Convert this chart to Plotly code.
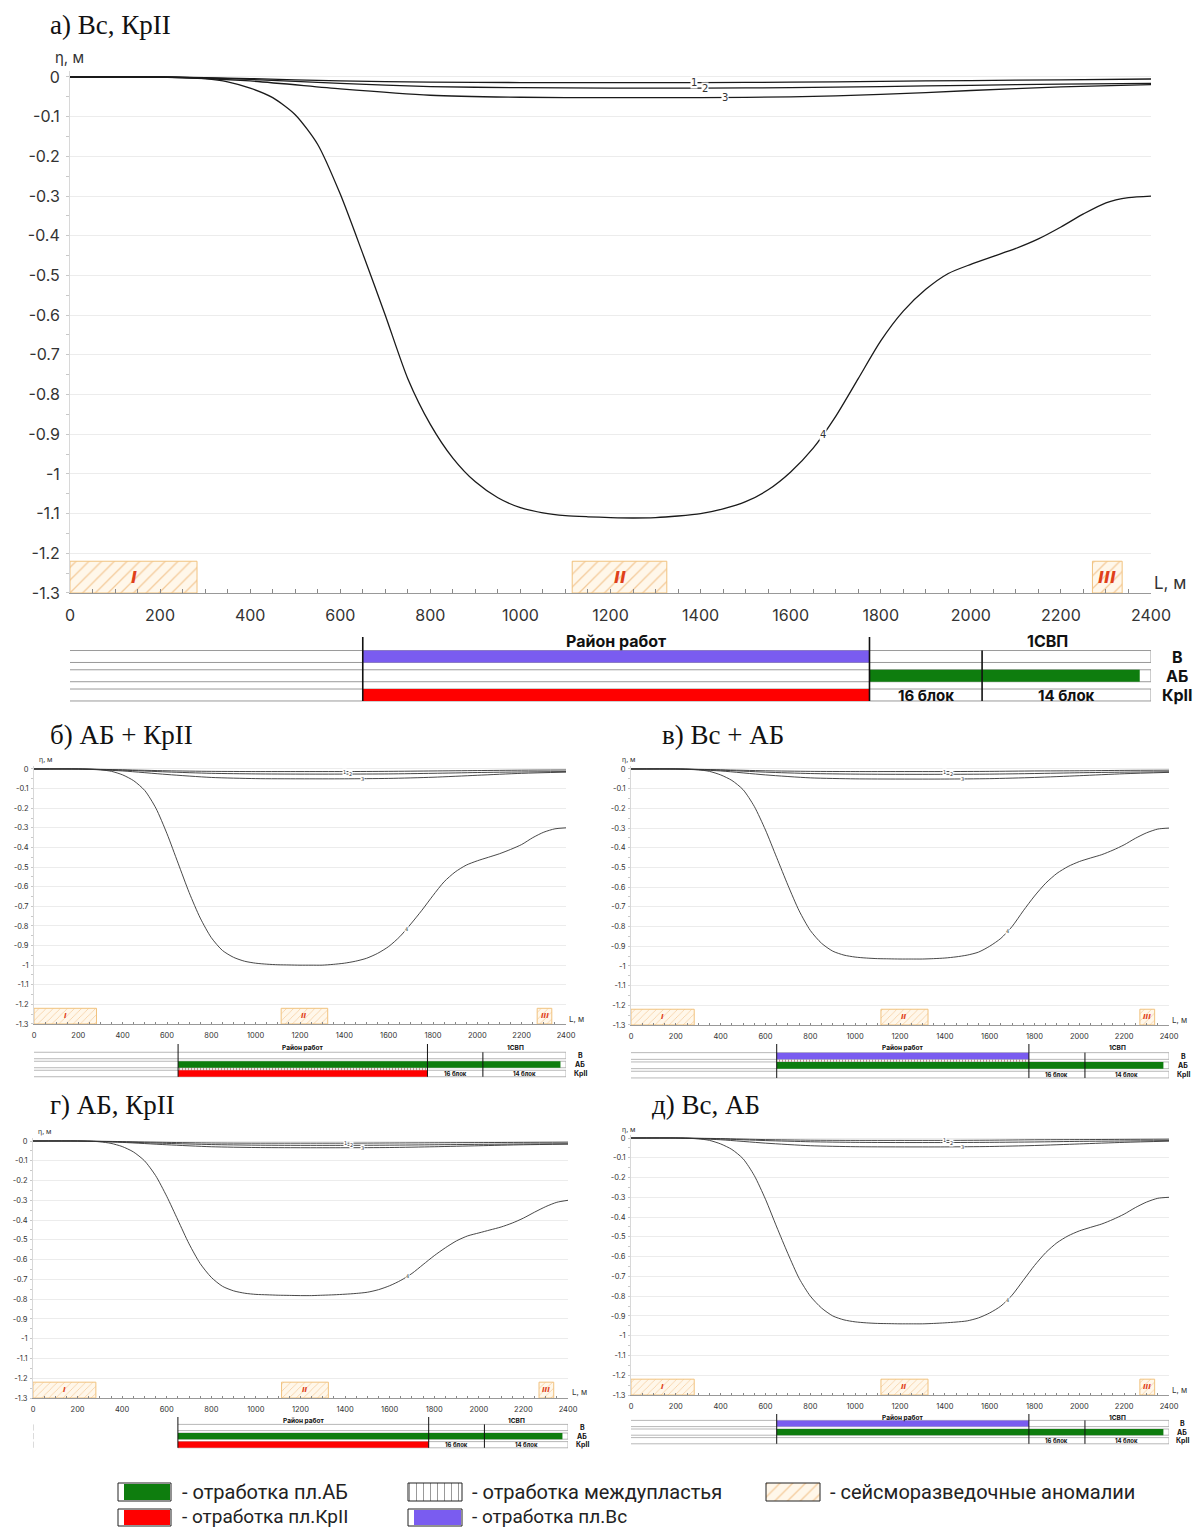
import numpy as np
import plotly.graph_objects as go

W, H = 1197, 1528

# ------------------------------------------------------------------ data
L4 = [0, 50, 100, 150, 200, 250, 300, 350, 400, 450, 500, 550, 600, 650, 700, 750, 800, 850, 900, 950,
      1000, 1050, 1100, 1150, 1200, 1250, 1300, 1350, 1400, 1450, 1500, 1550, 1600, 1650, 1700, 1750,
      1800, 1850, 1900, 1950, 2000, 2050, 2100, 2150, 2200, 2250, 2300, 2350, 2400]
A_C4 = [0, 0, 0, 0, 0, -0.001,
        -0.004, -0.012, -0.028, -0.052, -0.095, -0.17, -0.295, -0.445, -0.6, -0.76, -0.875, -0.96, -1.02,
        -1.06, -1.085,
        -1.098, -1.105, -1.108, -1.11, -1.111, -1.11, -1.106, -1.1, -1.088, -1.07,
        -1.04, -0.995, -0.935, -0.855, -0.76, -0.665, -0.59, -0.535, -0.495, -0.472, -0.452, -0.432,
        -0.408, -0.378, -0.345, -0.317, -0.304, -0.3]
B_C4 = [0, 0, 0, 0, 0, -0.001,
        -0.004, -0.012, -0.03, -0.06, -0.11, -0.2, -0.33, -0.48, -0.63, -0.76, -0.86, -0.925, -0.96,
        -0.98, -0.99,
        -0.995, -0.998, -0.999, -1.0, -1.0, -1.0, -0.996, -0.99, -0.98, -0.965,
        -0.94, -0.905, -0.855, -0.79, -0.72, -0.645, -0.575, -0.525, -0.49, -0.468, -0.45, -0.432,
        -0.41, -0.385, -0.35, -0.322, -0.305, -0.3]
V_C4 = [0, 0, 0, 0, 0, -0.001,
        -0.004, -0.012, -0.03, -0.058, -0.105, -0.19, -0.31, -0.45, -0.59, -0.72, -0.82, -0.885, -0.925,
        -0.945, -0.955,
        -0.96, -0.963, -0.964, -0.965, -0.965, -0.965, -0.963, -0.96, -0.954, -0.945,
        -0.93, -0.9, -0.86, -0.8, -0.72, -0.645, -0.58, -0.53, -0.495, -0.47, -0.452, -0.435,
        -0.412, -0.385, -0.352, -0.324, -0.305, -0.3]
G_C4 = [0, 0, 0, 0, 0, -0.001,
        -0.004, -0.012, -0.028, -0.055, -0.1, -0.175, -0.28, -0.4, -0.52, -0.62, -0.69, -0.735, -0.758,
        -0.77, -0.776,
        -0.778, -0.78, -0.781, -0.782, -0.782, -0.78, -0.778, -0.775, -0.771, -0.765,
        -0.752, -0.732, -0.705, -0.67, -0.625, -0.58, -0.54, -0.505, -0.48, -0.465, -0.45, -0.435,
        -0.415, -0.39, -0.36, -0.332, -0.31, -0.3]
D_C4 = [0, 0, 0, 0, 0, -0.001,
        -0.004, -0.012, -0.03, -0.058, -0.105, -0.19, -0.31, -0.45, -0.585, -0.71, -0.8, -0.86, -0.9,
        -0.92, -0.93,
        -0.935, -0.938, -0.939, -0.94, -0.94, -0.94, -0.938, -0.935, -0.931, -0.925,
        -0.91, -0.885, -0.85, -0.795, -0.72, -0.645, -0.58, -0.53, -0.495, -0.47, -0.452, -0.435,
        -0.412, -0.385, -0.352, -0.324, -0.305, -0.3]

L13 = [0, 200, 400, 600, 800, 1000, 1200, 1400, 1600, 1800, 2000, 2200, 2400]
A_C1 = [0, 0, -0.004, -0.010, -0.013, -0.014, -0.014, -0.014, -0.013, -0.011, -0.009, -0.007, -0.005]
A_C2 = [0, 0, -0.006, -0.016, -0.024, -0.027, -0.028, -0.028, -0.027, -0.024, -0.021, -0.018, -0.016]
A_C3 = [0, 0, -0.010, -0.030, -0.046, -0.051, -0.052, -0.052, -0.050, -0.044, -0.034, -0.025, -0.019]
B_C1 = [0, 0, -0.004, -0.009, -0.012, -0.013, -0.013, -0.013, -0.012, -0.010, -0.008, -0.006, -0.005]
B_C2 = [0, 0, -0.006, -0.015, -0.022, -0.025, -0.026, -0.026, -0.025, -0.022, -0.018, -0.015, -0.013]
B_C3 = [0, 0, -0.010, -0.028, -0.043, -0.049, -0.050, -0.050, -0.048, -0.042, -0.032, -0.022, -0.016]
V_C1 = [0, 0, -0.004, -0.009, -0.012, -0.013, -0.013, -0.013, -0.012, -0.010, -0.009, -0.007, -0.006]
V_C2 = [0, 0, -0.006, -0.016, -0.023, -0.026, -0.027, -0.027, -0.026, -0.023, -0.019, -0.016, -0.014]
V_C3 = [0, 0, -0.010, -0.030, -0.045, -0.050, -0.051, -0.051, -0.049, -0.043, -0.034, -0.024, -0.017]
G_C1 = [0, 0, -0.003, -0.007, -0.010, -0.011, -0.011, -0.011, -0.010, -0.009, -0.008, -0.007, -0.006]
G_C2 = [0, 0, -0.005, -0.012, -0.018, -0.021, -0.022, -0.022, -0.021, -0.019, -0.017, -0.015, -0.014]
G_C3 = [0, 0, -0.007, -0.019, -0.029, -0.033, -0.034, -0.034, -0.033, -0.029, -0.024, -0.019, -0.016]
D_C1 = [0, 0, -0.003, -0.008, -0.011, -0.012, -0.012, -0.012, -0.011, -0.009, -0.008, -0.007, -0.006]
D_C2 = [0, 0, -0.005, -0.013, -0.019, -0.022, -0.023, -0.023, -0.022, -0.020, -0.017, -0.015, -0.013]
D_C3 = [0, 0, -0.009, -0.026, -0.039, -0.044, -0.045, -0.045, -0.043, -0.038, -0.030, -0.022, -0.016]

ANOM_START = [0, 1115, 2270]
ANOM_END = [282, 1325, 2336]
ANOM_NAME = ['I', 'II', 'III']
ANOM_TOP = -1.22
AXIS_BOTTOM = -1.3

X_TICKS = [0, 200, 400, 600, 800, 1000, 1200, 1400, 1600, 1800, 2000, 2200, 2400]
Y_TICKS = [0, -0.1, -0.2, -0.3, -0.4, -0.5, -0.6, -0.7, -0.8, -0.9, -1.0, -1.1, -1.2, -1.3]
Y_TICK_TEXT = ['0', '-0.1', '-0.2', '-0.3', '-0.4', '-0.5', '-0.6', '-0.7', '-0.8', '-0.9',
               '-1', '-1.1', '-1.2', '-1.3']

SEAM_ROWS = ['В', 'АБ', 'КрII']
WORK_START, WORK_END, BLOCK_SPLIT, STRIP_END = 650, 1775, 2025, 2400
SVP_LABEL_X = 2170
BLOCK_LABELS = ['16 блок', '14 блок']
A_MINED = [('В', 650, 1775), ('АБ', 1775, 2375), ('КрII', 650, 1775)]
B_MINED = [('АБ', 650, 2375), ('КрII', 650, 1775)]
V_MINED = [('В', 650, 1775), ('АБ', 650, 2375)]
G_MINED = [('АБ', 650, 2375), ('КрII', 650, 1775)]
D_MINED = [('В', 650, 1775), ('АБ', 650, 2375)]
B_INTER = [(2.5, 650, 1775)]   # interlayer between АБ and КрII
V_INTER = [(1.5, 650, 1775)]   # interlayer between В and АБ

# ------------------------------------------------------------------ style
SEAM_COLOR = {'В': '#7a5cf0', 'АБ': '#0e7d0e', 'КрII': '#ff0000'}
ANOM_FILL = '#fff7ea'
ANOM_FG = '#e9a04e'
ANOM_LINE = '#f1c27e'
ANOM_TXT = '#e0401a'
TICK_FONT = 'Inter'
SERIF = 'Liberation Serif'

PANELS = [
    dict(title='а) Вс, КрII', tpos=(48, 25), tsize=27, box=(70, 1151, 77, 593), big=True,
         c4=A_C4, c1=A_C1, c2=A_C2, c3=A_C3, mined=A_MINED, inter=[],
         strip=dict(r1=656.5, s=19.25, hh=0.31, header=641, vtop=637, lab_x=1177),
         eta=(69, 57), Lm=(1170, 583), lbl_L=[1385, 1410, 1454, 1672], row_start=0),
    dict(title='б) АБ + КрII', tpos=(48, 735), tsize=27, box=(34, 566, 769, 1024), big=False,
         c4=B_C4, c1=B_C1, c2=B_C2, c3=B_C3, mined=B_MINED, inter=B_INTER,
         strip=dict(r1=1055.5, s=9.0, hh=0.36, header=1048, vtop=1044, lab_x=580),
         eta=(46, 759), Lm=(576, 1019), lbl_L=[1400, 1430, 1480, 1680], row_start=0),
    dict(title='в) Вс + АБ', tpos=(660, 735), tsize=27, box=(631, 1169, 769, 1025), big=False,
         c4=V_C4, c1=V_C1, c2=V_C2, c3=V_C3, mined=V_MINED, inter=V_INTER,
         strip=dict(r1=1056, s=9.3, hh=0.36, header=1048, vtop=1044, lab_x=1183),
         eta=(629, 759), Lm=(1179, 1020), lbl_L=[1400, 1430, 1480, 1680], row_start=0),
    dict(title='г) АБ, КрII', tpos=(48, 1105), tsize=27, box=(33, 568, 1141, 1398), big=False,
         c4=G_C4, c1=G_C1, c2=G_C2, c3=G_C3, mined=G_MINED, inter=[],
         strip=dict(r1=1427.5, s=8.6, hh=0.36, header=1421, vtop=1417, lab_x=582),
         eta=(45, 1131), Lm=(579, 1392), lbl_L=[1400, 1430, 1480, 1680], row_start=650),
    dict(title='д) Вс, АБ', tpos=(650, 1105), tsize=27, box=(631, 1169, 1138, 1395), big=False,
         c4=D_C4, c1=D_C1, c2=D_C2, c3=D_C3, mined=D_MINED, inter=[],
         strip=dict(r1=1423.5, s=8.6, hh=0.36, header=1418, vtop=1414, lab_x=1182),
         eta=(629, 1129), Lm=(1179, 1390), lbl_L=[1400, 1430, 1480, 1680], row_start=0),
]

fig = go.Figure()
layout = dict(width=W, height=H, autosize=False, margin=dict(l=0, r=0, t=0, b=0, pad=0),
              paper_bgcolor='white', plot_bgcolor='rgba(0,0,0,0)', showlegend=False)
annotations = []
shapes = []


def aname(n, kind):
    return f'{kind}axis' if n == 1 else f'{kind}axis{n}'


def aref(n, kind):
    return kind if n == 1 else f'{kind}{n}'


def px2x(px):
    return px / W


def px2y(py):
    return 1 - py / H


def paper_text(text, x, y, size, family=TICK_FONT, color='#222', xanchor='left', bold=False):
    t = f'<b>{text}</b>' if bold else text
    annotations.append(dict(text=t, x=px2x(x), y=px2y(y), xref='paper', yref='paper',
                            xanchor=xanchor, yanchor='middle', showarrow=False,
                            font=dict(family=family, size=size, color=color)))


n = 1
for p in PANELS:
    big = p['big']
    cx, sx = n, n + 1
    x0, x1, y0, y13 = p['box']
    unit = (y13 - y0) / 1.3
    ytop = 0.015
    top_px = y0 - ytop * unit
    tf = 16 if big else 7.5
    layout[aname(cx, 'x')] = dict(
        domain=[px2x(x0), px2x(x1)], range=[0, 2400], anchor=aref(cx, 'y'),
        tickmode='array', tickvals=X_TICKS, ticktext=[str(v) for v in X_TICKS],
        ticks='inside', ticklen=4 if big else 2, tickcolor='#888', tickwidth=1,
        showline=True, linecolor='#999', linewidth=1,
        minor=dict(ticks='inside', dtick=50, ticklen=4 if big else 2, tickcolor='#888'),
        showgrid=False, zeroline=False, ticklabelstandoff=8 if big else 4, automargin=False,
        tickfont=dict(family=TICK_FONT, size=tf, color='#333'), fixedrange=True)
    layout[aname(cx, 'y')] = dict(
        domain=[px2y(y13), px2y(top_px)], range=[AXIS_BOTTOM, ytop], anchor=aref(cx, 'x'),
        tickmode='array', tickvals=Y_TICKS, ticktext=Y_TICK_TEXT, ticks='',
        showline=True, linecolor='#d8d8d8', linewidth=1,
        showgrid=True, gridcolor='#ececec', gridwidth=1, zeroline=False, automargin=False,
        minor=dict(ticks='outside', dtick=0.05, ticklen=3 if big else 2, tickcolor='#c8c8c8'),
        ticklabelstandoff=6 if big else 3,
        tickfont=dict(family=TICK_FONT, size=tf, color='#333'), fixedrange=True)

    xr, yr = aref(cx, 'x'), aref(cx, 'y')
    # seismic anomalies
    for s, e, name in zip(ANOM_START, ANOM_END, ANOM_NAME):
        fig.add_trace(go.Scatter(
            x=[s, e, e, s, s], y=[AXIS_BOTTOM, AXIS_BOTTOM, ANOM_TOP, ANOM_TOP, AXIS_BOTTOM],
            fill='toself', fillcolor=ANOM_FILL, mode='lines',
            fillpattern=dict(shape='/', fgcolor=ANOM_FG, bgcolor=ANOM_FILL, size=9 if big else 5,
                             solidity=0.15),
            line=dict(color=ANOM_LINE, width=1), hoverinfo='skip', xaxis=xr, yaxis=yr))
        annotations.append(dict(text=f'<b><i>{name}</i></b>', x=(s + e) / 2,
                                y=(AXIS_BOTTOM + ANOM_TOP) / 2, xref=xr, yref=yr, showarrow=False,
                                font=dict(family='DejaVu Sans', size=16 if big else 7, color=ANOM_TXT)))

    # subsidence curves
    lw = 1.3 if big else 0.9
    lc = '#1a1a1a' if big else '#333'
    for xs, ys in [(L13, p['c1']), (L13, p['c2']), (L13, p['c3']), (L4, p['c4'])]:
        fig.add_trace(go.Scatter(x=xs, y=ys, mode='lines',
                                 line=dict(color=lc, width=lw, shape='spline', smoothing=0.7),
                                 hoverinfo='skip', xaxis=xr, yaxis=yr))
    for lab, Lx, ys, xs in zip(['1', '2', '3', '4'], p['lbl_L'],
                               [p['c1'], p['c2'], p['c3'], p['c4']], [L13, L13, L13, L4]):
        annotations.append(dict(text=lab, x=Lx, y=float(np.interp(Lx, xs, ys)), xref=xr, yref=yr,
                                showarrow=False, bgcolor='white', borderpad=0,
                                font=dict(family='DejaVu Sans', size=10 if big else 5, color='#333')))

    paper_text('η, м', p['eta'][0], p['eta'][1], 15 if big else 7, xanchor='center', color='#333')
    paper_text('L, м', p['Lm'][0], p['Lm'][1], 17 if big else 8, xanchor='center', color='#333')
    paper_text(p['title'], p['tpos'][0], p['tpos'][1], p['tsize'], family=SERIF, color='#111')

    # ---------------- strip (mining scheme)
    st = p['strip']
    s_px = st['s']
    top_s = st['r1'] - 1.4 * s_px
    bot_s = st['r1'] + 2.5 * s_px
    layout[aname(sx, 'x')] = dict(domain=[px2x(x0), px2x(x1)], range=[0, 2400], visible=False,
                                  anchor=aref(sx, 'y'), fixedrange=True, automargin=False)
    layout[aname(sx, 'y')] = dict(domain=[px2y(bot_s), px2y(top_s)], range=[3.5, -0.4], visible=False,
                                  anchor=aref(sx, 'x'), fixedrange=True, automargin=False)
    sxr, syr = aref(sx, 'x'), aref(sx, 'y')
    hh = st['hh']
    gl = dict(color='#9a9a9a', width=1 if big else 0.7)

    def ln(xa, ya, xb, yb, line):
        shapes.append(dict(type='line', x0=xa, y0=ya, x1=xb, y1=yb, xref=sxr, yref=syr, line=line,
                           layer='above'))

    def rect(xa, ya, xb, yb, fill):
        shapes.append(dict(type='rect', x0=xa, y0=ya, x1=xb, y1=yb, xref=sxr, yref=syr,
                           fillcolor=fill, line=dict(width=0), layer='above'))

    for i, seam in enumerate(SEAM_ROWS):
        r = i + 1
        ln(p['row_start'], r - hh, STRIP_END, r - hh, gl)
        ln(p['row_start'], r + hh, STRIP_END, r + hh, gl)
        ln(STRIP_END, r - hh, STRIP_END, r + hh, gl)
        if p['row_start'] > 0:
            ln(0, r - hh, 0, r + hh, gl)
    for seam, a, b in p['mined']:
        r = SEAM_ROWS.index(seam) + 1
        rect(a, r - hh, b, r + hh, SEAM_COLOR[seam])
    for ymid, a, b in p['inter']:
        fig.add_trace(go.Scatter(
            x=[a, b, b, a, a], y=[ymid - 0.16, ymid - 0.16, ymid + 0.16, ymid + 0.16, ymid - 0.16],
            fill='toself', fillcolor='white', mode='lines', line=dict(width=0),
            fillpattern=dict(shape='|', fgcolor='#8a1a1a', bgcolor='white', size=3, solidity=0.4),
            hoverinfo='skip', xaxis=sxr, yaxis=syr))
    vtop = (st['vtop'] - st['r1']) / s_px + 1
    vl = dict(color='#111', width=1.6 if big else 1)
    ln(WORK_START, vtop, WORK_START, 3 + hh, vl)
    ln(WORK_END, vtop, WORK_END, 3 + hh, vl)
    ln(BLOCK_SPLIT, 1 - hh, BLOCK_SPLIT, 3 + hh, vl)

    hy = (st['header'] - st['r1']) / s_px + 1
    hf = 16 if big else 6.5
    for txt, xv in [('Район работ', (WORK_START + WORK_END) / 2), ('1СВП', SVP_LABEL_X)]:
        annotations.append(dict(text=f'<b>{txt}</b>', x=xv, y=hy, xref=sxr, yref=syr, showarrow=False,
                                font=dict(family=TICK_FONT, size=hf, color='#111')))
    for txt, xv in zip(BLOCK_LABELS, [(WORK_END + BLOCK_SPLIT) / 2, (BLOCK_SPLIT + STRIP_END) / 2]):
        annotations.append(dict(text=f'<b>{txt}</b>', x=xv, y=3, xref=sxr, yref=syr, showarrow=False,
                                font=dict(family=TICK_FONT, size=15 if big else 6, color='#111')))
    for i, seam in enumerate(SEAM_ROWS):
        paper_text(seam, st['lab_x'], st['r1'] + i * s_px, 16 if big else 7, xanchor='center',
                   color='#111', bold=True)
    n += 2

# ------------------------------------------------------------------ legend (pixel axis, bottom band)
LG = n
LEG_TOP, LEG_BOT = 1474, 1528
layout[aname(LG, 'x')] = dict(domain=[0, 1], range=[0, W], visible=False, anchor=aref(LG, 'y'),
                              fixedrange=True, automargin=False)
layout[aname(LG, 'y')] = dict(domain=[px2y(LEG_BOT), px2y(LEG_TOP)], range=[LEG_BOT, LEG_TOP],
                              visible=False, anchor=aref(LG, 'x'), fixedrange=True, automargin=False)
lx, ly = aref(LG, 'x'), aref(LG, 'y')


def legend_box(xa, xb, ya, yb, fill=None, pattern=None):
    if pattern is not None:
        fig.add_trace(go.Scatter(x=[xa, xb, xb, xa, xa], y=[ya, ya, yb, yb, ya], fill='toself',
                                 fillcolor=pattern['bgcolor'], fillpattern=pattern, mode='lines',
                                 line=dict(width=0), hoverinfo='skip', xaxis=lx, yaxis=ly))
    if fill is not None:
        shapes.append(dict(type='rect', x0=xa + 6, x1=xb - 1, y0=ya + 1, y1=yb - 1, xref=lx, yref=ly,
                           fillcolor=fill, line=dict(width=0)))
    shapes.append(dict(type='rect', x0=xa, x1=xb, y0=ya, y1=yb, xref=lx, yref=ly,
                       line=dict(color='#222', width=1), fillcolor='rgba(0,0,0,0)'))


legend_box(118, 171, 1483, 1501, fill=SEAM_COLOR['АБ'])
legend_box(118, 171, 1509, 1526, fill=SEAM_COLOR['КрII'])
legend_box(408, 462, 1483, 1501, pattern=dict(shape='|', fgcolor='#333', bgcolor='white', size=7,
                                              solidity=0.15))
legend_box(408, 462, 1509, 1526, fill=SEAM_COLOR['В'])
legend_box(766, 820, 1483, 1501, pattern=dict(shape='/', fgcolor=ANOM_FG, bgcolor=ANOM_FILL, size=9,
                                              solidity=0.15))
LEG_FONT = 'Roboto'
paper_text('- отработка пл.АБ', 180, 1492, 20, family=LEG_FONT)
paper_text('- отработка междупластья', 470, 1492, 20, family=LEG_FONT)
paper_text('- сейсморазведочные аномалии', 828, 1492, 20, family=LEG_FONT)
paper_text('- отработка пл.КрII', 180, 1516, 19, family=LEG_FONT)
paper_text('- отработка пл.Вс', 470, 1516, 19, family=LEG_FONT)

layout['annotations'] = annotations
layout['shapes'] = shapes
fig.update_layout(**layout)
fig.write_html('out.html')
